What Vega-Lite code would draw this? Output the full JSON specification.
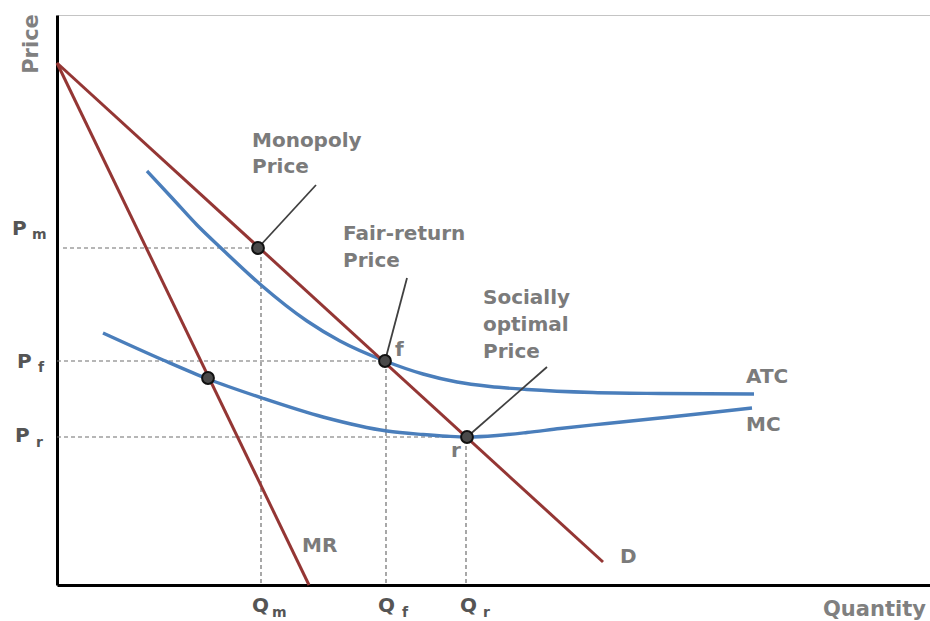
{
  "$schema": "https://vega.github.io/schema/vega-lite/v6.json",
  "width": 873,
  "height": 570,
  "autosize": {"type": "none"},
  "padding": {"left": 57, "top": 15, "right": 0, "bottom": 36},
  "background": "white",
  "config": {
    "view": {"stroke": "#c4c4c4", "strokeWidth": 1},
    "text": {"font": "DejaVu Sans", "fontWeight": "bold"}
  },
  "datasets": {
    "cost": [
      {"curve": "ATC", "x": 90, "y": 414},
      {"curve": "ATC", "x": 116, "y": 386},
      {"curve": "ATC", "x": 140, "y": 360},
      {"curve": "ATC", "x": 165, "y": 336},
      {"curve": "ATC", "x": 204, "y": 300},
      {"curve": "ATC", "x": 250, "y": 264},
      {"curve": "ATC", "x": 283, "y": 244},
      {"curve": "ATC", "x": 328, "y": 224},
      {"curve": "ATC", "x": 366, "y": 211},
      {"curve": "ATC", "x": 400, "y": 203},
      {"curve": "ATC", "x": 433, "y": 198.5},
      {"curve": "ATC", "x": 470, "y": 195.5},
      {"curve": "ATC", "x": 536, "y": 192.5},
      {"curve": "ATC", "x": 603, "y": 191.5},
      {"curve": "ATC", "x": 697, "y": 191},
      {"curve": "MC", "x": 46, "y": 252},
      {"curve": "MC", "x": 106, "y": 225},
      {"curve": "MC", "x": 151, "y": 206},
      {"curve": "MC", "x": 205, "y": 187},
      {"curve": "MC", "x": 266, "y": 168},
      {"curve": "MC", "x": 330, "y": 154},
      {"curve": "MC", "x": 366, "y": 150.5},
      {"curve": "MC", "x": 390, "y": 148.8},
      {"curve": "MC", "x": 410, "y": 148},
      {"curve": "MC", "x": 440, "y": 149.5},
      {"curve": "MC", "x": 470, "y": 152.5},
      {"curve": "MC", "x": 503, "y": 156.5},
      {"curve": "MC", "x": 550, "y": 161.5},
      {"curve": "MC", "x": 603, "y": 167},
      {"curve": "MC", "x": 650, "y": 172},
      {"curve": "MC", "x": 695, "y": 177}
    ],
    "revenue": [
      {"curve": "D", "x": 0, "y": 522},
      {"curve": "D", "x": 546, "y": 23},
      {"curve": "MR", "x": 0, "y": 522},
      {"curve": "MR", "x": 252, "y": 0}
    ],
    "guides": [
      {"x": 6, "y": 337, "x2": 201, "y2": 337},
      {"x": 0, "y": 224, "x2": 328, "y2": 224},
      {"x": 0, "y": 148, "x2": 410, "y2": 148},
      {"x": 204, "y": 2, "x2": 204, "y2": 337},
      {"x": 329, "y": 2, "x2": 329, "y2": 224},
      {"x": 409, "y": 2, "x2": 409, "y2": 148}
    ],
    "leaders": [
      {"x": 201, "y": 337, "x2": 259, "y2": 400},
      {"x": 328, "y": 224, "x2": 350, "y2": 307},
      {"x": 410, "y": 148, "x2": 490, "y2": 218}
    ],
    "points": [
      {"name": "monopoly", "x": 201, "y": 337},
      {"name": "fair", "x": 328, "y": 224},
      {"name": "optimal", "x": 410, "y": 148},
      {"name": "mr_mc", "x": 151, "y": 207}
    ],
    "labels": [
      {"role": "note", "x": 195, "y": 438, "text": "Monopoly"},
      {"role": "note", "x": 195, "y": 412, "text": "Price"},
      {"role": "note", "x": 286, "y": 345, "text": "Fair-return"},
      {"role": "note", "x": 286, "y": 318, "text": "Price"},
      {"role": "note", "x": 426, "y": 281, "text": "Socially"},
      {"role": "note", "x": 426, "y": 254, "text": "optimal"},
      {"role": "note", "x": 426, "y": 227, "text": "Price"},
      {"role": "note", "x": 338, "y": 229, "text": "f"},
      {"role": "note", "x": 394, "y": 128, "text": "r"},
      {"role": "note", "x": 689, "y": 202, "text": "ATC"},
      {"role": "note", "x": 689, "y": 154, "text": "MC"},
      {"role": "note", "x": 245, "y": 33, "text": "MR"},
      {"role": "note", "x": 563, "y": 22, "text": "D"},
      {"role": "axis", "x": -45, "y": 350, "text": "P"},
      {"role": "axis", "x": -40, "y": 217, "text": "P"},
      {"role": "axis", "x": -42, "y": 143, "text": "P"},
      {"role": "axis", "x": 195, "y": -27, "text": "Q"},
      {"role": "axis", "x": 321, "y": -27, "text": "Q"},
      {"role": "axis", "x": 403, "y": -27, "text": "Q"},
      {"role": "sub", "x": -25, "y": 346, "text": "m"},
      {"role": "sub", "x": -19, "y": 213, "text": "f"},
      {"role": "sub", "x": -21, "y": 138, "text": "r"},
      {"role": "sub", "x": 215, "y": -32, "text": "m"},
      {"role": "sub", "x": 345, "y": -32, "text": "f"},
      {"role": "sub", "x": 426, "y": -32, "text": "r"},
      {"role": "xtitle", "x": 766, "y": -31, "text": "Quantity"},
      {"role": "ytitle", "x": -19, "y": 541, "text": "Price"}
    ]
  },
  "encoding": {
    "x": {
      "field": "x",
      "type": "quantitative",
      "scale": {"domain": [0, 873], "nice": false, "zero": false},
      "axis": {"domainColor": "black", "domainWidth": 3, "ticks": false, "labels": false, "grid": false, "title": null}
    },
    "y": {
      "field": "y",
      "type": "quantitative",
      "scale": {"domain": [0, 570], "nice": false, "zero": false},
      "axis": {"domainColor": "black", "domainWidth": 3, "ticks": false, "labels": false, "grid": false, "title": null}
    }
  },
  "layer": [
    {
      "data": {"name": "guides"},
      "mark": {"type": "rule", "color": "#6e6e6e", "strokeWidth": 1.2, "strokeDash": [4, 3]},
      "encoding": {"x2": {"field": "x2"}, "y2": {"field": "y2"}}
    },
    {
      "data": {"name": "cost"},
      "mark": {"type": "line", "color": "#4a7ebb", "strokeWidth": 3.4, "interpolate": "monotone"},
      "encoding": {"detail": {"field": "curve"}}
    },
    {
      "data": {"name": "revenue"},
      "mark": {"type": "line", "color": "#943634", "strokeWidth": 3},
      "encoding": {"detail": {"field": "curve"}}
    },
    {
      "data": {"name": "leaders"},
      "mark": {"type": "rule", "color": "#404040", "strokeWidth": 1.8},
      "encoding": {"x2": {"field": "x2"}, "y2": {"field": "y2"}}
    },
    {
      "data": {"name": "points"},
      "mark": {"type": "point", "filled": true, "fill": "#4a4a4a", "stroke": "#111111", "strokeWidth": 2, "size": 140, "opacity": 1}
    },
    {
      "data": {"name": "labels"},
      "transform": [{"filter": "datum.role === 'note'"}],
      "mark": {"type": "text", "align": "left", "baseline": "alphabetic", "fontSize": 20, "color": "#7b7b7b"},
      "encoding": {"text": {"field": "text"}}
    },
    {
      "data": {"name": "labels"},
      "transform": [{"filter": "datum.role === 'axis'"}],
      "mark": {"type": "text", "align": "left", "baseline": "alphabetic", "fontSize": 20, "color": "#555555"},
      "encoding": {"text": {"field": "text"}}
    },
    {
      "data": {"name": "labels"},
      "transform": [{"filter": "datum.role === 'sub'"}],
      "mark": {"type": "text", "align": "left", "baseline": "alphabetic", "fontSize": 14, "color": "#555555"},
      "encoding": {"text": {"field": "text"}}
    },
    {
      "data": {"name": "labels"},
      "transform": [{"filter": "datum.role === 'xtitle'"}],
      "mark": {"type": "text", "align": "left", "baseline": "alphabetic", "fontSize": 21, "color": "#808080"},
      "encoding": {"text": {"field": "text"}}
    },
    {
      "data": {"name": "labels"},
      "transform": [{"filter": "datum.role === 'ytitle'"}],
      "mark": {"type": "text", "align": "center", "baseline": "alphabetic", "fontSize": 21, "angle": 270, "color": "#808080"},
      "encoding": {"text": {"field": "text"}}
    }
  ]
}
